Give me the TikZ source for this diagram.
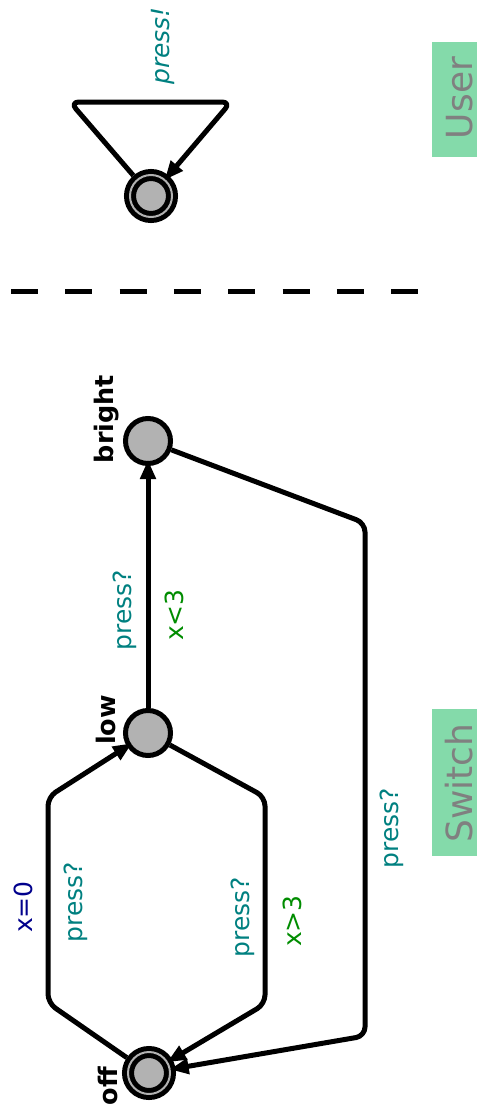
\documentclass[tikz,border=0pt]{standalone}
\usepackage{fontspec}
\setmainfont{DejaVu Sans}
\usetikzlibrary{arrows.meta}
\definecolor{synccol}{RGB}{0,128,128}
\definecolor{guardcol}{RGB}{0,140,0}
\definecolor{updcol}{RGB}{0,0,140}
\definecolor{tmplfill}{RGB}{132,218,170}
\definecolor{tmpltext}{RGB}{128,128,128}
\begin{document}
\begin{tikzpicture}[x=1pt,y=-1pt,
  loc/.style={circle,draw=black,line width=5pt,fill=gray!60,minimum size=45pt,inner sep=0pt},
  initloc/.style={circle,draw=black,line width=5pt,double=gray!60,double distance=2pt,
    fill=gray!60,minimum size=42pt,inner sep=0pt,outer sep=6pt},
  trans/.style={line width=5pt,rounded corners=9pt,line join=round,
    -{Triangle[length=19pt,width=15pt]},shorten >=-6pt},
  lbl/.style={rotate=90,inner sep=0pt,font=\fontsize{25}{29}\selectfont},
  locname/.style={lbl,font=\fontsize{25.5}{30}\selectfont\bfseries},
  sync/.style={lbl,text=synccol},
  guard/.style={lbl,text=guardcol},
  upd/.style={lbl,text=updcol},
  tmplbox/.style={rotate=90,fill=tmplfill,inner sep=0pt,minimum height=45pt},
  tmplname/.style={rotate=90,inner sep=0pt,text=tmpltext,font=\fontsize{36}{40}\selectfont},
]
\useasboundingbox (0,0) rectangle (477,1116);

% ---------------- User template ----------------
\node[tmplbox,minimum width=115pt] (userbox) at (454.5,99.5) {};
\node[tmplname] (username) at (459.5,98) {User};
\node[initloc] (user) at (151,196) {};
\coordinate (ul) at (70,102);
\coordinate (ur) at (231,102);
\draw[trans] (user) -- (ul) -- (ur) -- (user);
\node[lbl,text=synccol,font=\fontsize{25}{29}\selectfont\itshape] (usync) at (163,46) {press!};

% ---------------- separator ----------------
\coordinate (sepA) at (11,291);
\coordinate (sepB) at (418,291);
\draw[line width=5pt,dash pattern=on 27pt off 27.3pt] (sepA) -- (sepB);

% ---------------- Switch template ----------------
\node[tmplbox,minimum width=147pt] (swbox) at (454.5,782.5) {};
\node[tmplname] (swname) at (459.5,783) {Switch};

\node[loc] (bright) at (148,441) {};
\node[loc] (low) at (148,733) {};
\node[initloc] (off) at (149,1073) {};

\node[locname] (nbright) at (107,419) {bright};
\node[locname] (nlow) at (106,720) {low};
\node[locname] (noff) at (108,1086) {off};

% low -> bright
\draw[trans] (low) -- (bright);
\node[sync] (s1) at (125,610) {press?};
\node[guard] (g1) at (174,615) {x<3};

% off -> low
\coordinate (a1) at (48,1003);
\coordinate (a2) at (48,797);
\draw[trans] (off) -- (a1) -- (a2) -- (low);
\node[upd] (u2) at (23,907) {x=0};
\node[sync] (s2) at (76,902) {press?};

% low -> off
\coordinate (b1) at (265,797);
\coordinate (b2) at (265,1004);
\draw[trans] (low) -- (b1) -- (b2) -- (off);
\node[sync] (s3) at (243,917) {press?};
\node[guard] (g3) at (292,921) {x>3};

% bright -> off
\coordinate (c1) at (365,523);
\coordinate (c2) at (365,1036);
\draw[trans] (bright) -- (c1) -- (c2) -- (off);
\node[sync] (s4) at (392,828) {press?};
\end{tikzpicture}
\end{document}
